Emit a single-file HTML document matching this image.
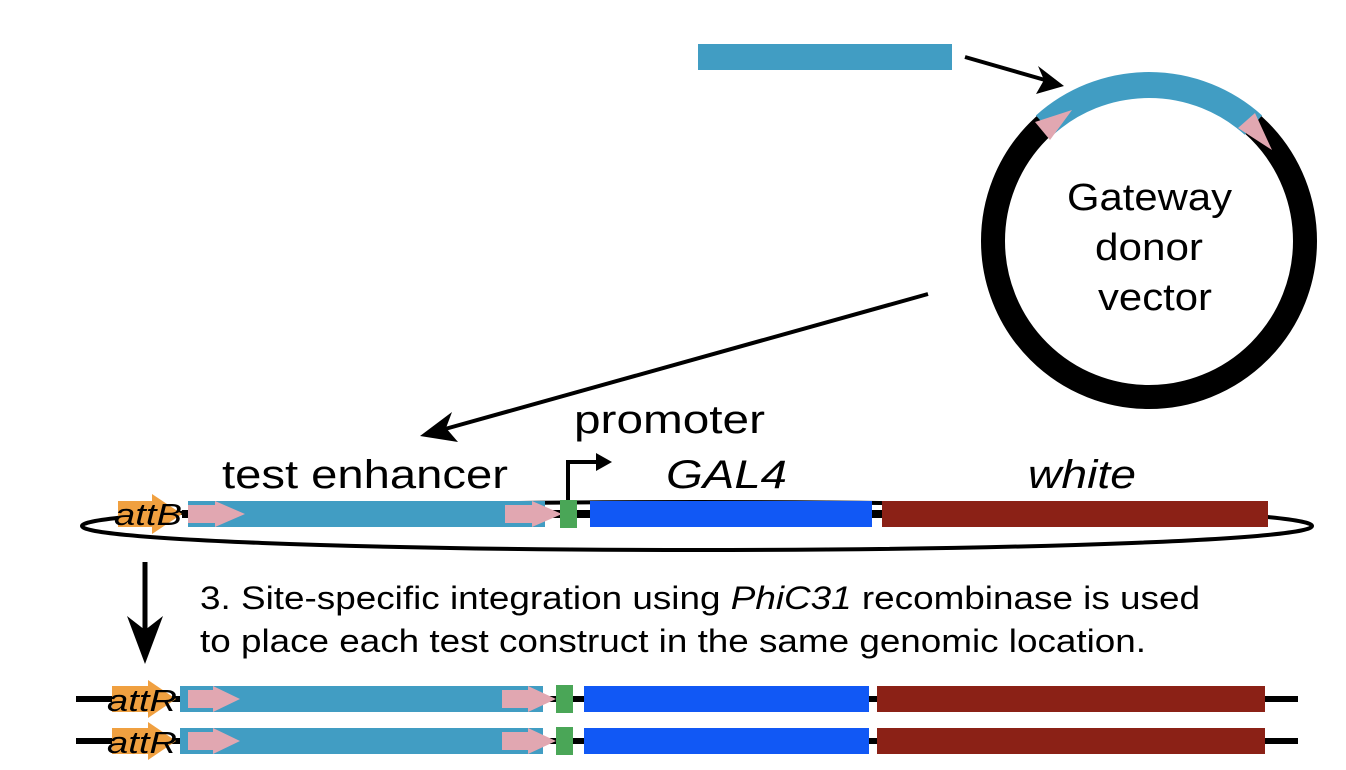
<!DOCTYPE html>
<html><head><style>
body{margin:0;background:#fff;}
svg{display:block;font-family:"Liberation Sans",sans-serif;}
</style></head><body>
<svg width="1346" height="770" viewBox="0 0 1346 770" xmlns="http://www.w3.org/2000/svg">
<rect x="698" y="44" width="254" height="26" fill="#419dc3"/>
<line x1="965" y1="57" x2="1045" y2="80" stroke="#000" stroke-width="4"/>
<polygon points="1064,86 1036,94 1044,80 1038,66" fill="#000"/>
<circle cx="1149" cy="241" r="156" fill="none" stroke="#000" stroke-width="24"/>
<path d="M 1044.6 125.1 A 156 156 0 0 1 1253.4 125.1" fill="none" stroke="#419dc3" stroke-width="26"/>
<polygon points="1035,122 1050,140 1072,110" fill="#e1a7b1"/>
<polygon points="1238,128 1255,113 1272,150" fill="#e1a7b1"/>
<text x="1067" y="210" font-size="38" textLength="165" lengthAdjust="spacingAndGlyphs">Gateway</text>
<text x="1095" y="260" font-size="38" textLength="108" lengthAdjust="spacingAndGlyphs">donor</text>
<text x="1098" y="310" font-size="38" textLength="114" lengthAdjust="spacingAndGlyphs">vector</text>
<line x1="928" y1="294" x2="445" y2="429" stroke="#000" stroke-width="4"/>
<polygon points="420,436 452,412 446,428 458,442" fill="#000"/>
<ellipse cx="697" cy="526" rx="615" ry="24" fill="none" stroke="#000" stroke-width="4"/>
<line x1="182" y1="514" x2="882" y2="514" stroke="#000" stroke-width="8"/>
<polygon points="118,501 152,501 152,494 182,514 152,534 152,527 118,527" fill="#f0a040"/>
<text x="114" y="525" font-size="31" font-style="italic" textLength="68" lengthAdjust="spacingAndGlyphs">attB</text>
<rect x="188" y="501" width="357" height="26" fill="#419dc3"/>
<polygon points="188,505 215,505 215,501 245,514 215,527 215,523 188,523" fill="#e1a7b1"/>
<polygon points="505,505 532,505 532,501 562,514 532,527 532,523 505,523" fill="#e1a7b1"/>
<rect x="560" y="500" width="17" height="28" fill="#4aa657"/>
<rect x="590" y="501" width="282" height="26" fill="#1158f5"/>
<rect x="882" y="501" width="386" height="26" fill="#8b2116"/>
<path d="M568 500 V462 H598" fill="none" stroke="#000" stroke-width="4"/>
<polygon points="612,462 596,453 596,471" fill="#000"/>
<text x="574" y="433" font-size="40" textLength="191" lengthAdjust="spacingAndGlyphs">promoter</text>
<text x="222" y="488" font-size="40" textLength="286" lengthAdjust="spacingAndGlyphs">test enhancer</text>
<text x="666" y="488" font-size="40" font-style="italic" textLength="121" lengthAdjust="spacingAndGlyphs">GAL4</text>
<text x="1028" y="488" font-size="40" font-style="italic" textLength="108" lengthAdjust="spacingAndGlyphs">white</text>
<line x1="145" y1="562" x2="145" y2="640" stroke="#000" stroke-width="5"/>
<polygon points="145,664 127,616 145,630 163,616" fill="#000"/>
<text x="200" y="609" font-size="32" textLength="1000" lengthAdjust="spacingAndGlyphs">3. Site-specific integration using <tspan font-style="italic">PhiC31</tspan> recombinase is used</text>
<text x="200" y="652" font-size="32" textLength="946" lengthAdjust="spacingAndGlyphs">to place each test construct in the same genomic location.</text>
<g id="r1">
<line x1="76" y1="699" x2="1298" y2="699" stroke="#000" stroke-width="6"/>
<polygon points="112,686 148,686 148,680 176,699 148,718 148,712 112,712" fill="#f0a040"/>
<text x="107" y="711" font-size="31" font-style="italic" textLength="70" lengthAdjust="spacingAndGlyphs">attR</text>
<rect x="180" y="686" width="363" height="26" fill="#419dc3"/>
<polygon points="188,690 213,690 213,686 240,699 213,712 213,708 188,708" fill="#e1a7b1"/>
<polygon points="502,690 528,690 528,686 556,699 528,712 528,708 502,708" fill="#e1a7b1"/>
<rect x="556" y="685" width="17" height="28" fill="#4aa657"/>
<rect x="584" y="686" width="285" height="26" fill="#1158f5"/>
<rect x="877" y="686" width="388" height="26" fill="#8b2116"/>
</g>
<use href="#r1" y="42"/>
</svg>
</body></html>
